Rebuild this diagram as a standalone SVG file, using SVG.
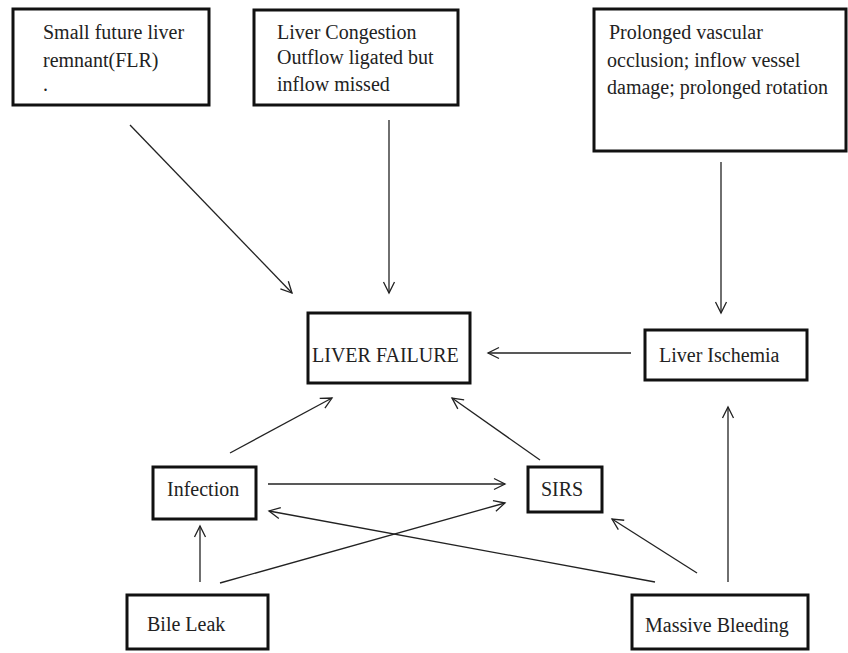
<svg xmlns="http://www.w3.org/2000/svg" width="848" height="653" viewBox="0 0 848 653">
<defs>
<style>
.box{fill:#fff;stroke:#111;stroke-width:3}
.t{font-family:'Liberation Serif','DejaVu Serif',serif;font-size:20px;fill:#222}
.c{stroke:#222;stroke-width:1.3;fill:none;marker-end:url(#ah)}
</style>
<marker id="ah" markerUnits="userSpaceOnUse" markerWidth="14" markerHeight="14" viewBox="0 0 14 14" refX="12" refY="7" orient="auto">
<path d="M1,1.5 L12,7 L1,12.5" fill="none" stroke="#222" stroke-width="1.3"/>
</marker>
</defs>
<rect width="848" height="653" fill="#fff"/>
<g id="n-flr"><rect class="box" x="13" y="9" width="196" height="96"/>
<text class="t" x="43" y="39">Small future liver</text>
<text class="t" x="43" y="67">remnant(FLR)</text>
<text class="t" x="43" y="91">.</text></g>
<g id="n-congestion"><rect class="box" x="254" y="10" width="204" height="95"/>
<text class="t" x="277" y="39">Liver Congestion</text>
<text class="t" x="277" y="64">Outflow ligated but</text>
<text class="t" x="277" y="91">inflow missed</text></g>
<g id="n-occlusion"><rect class="box" x="594" y="9" width="252" height="142"/>
<text class="t" x="609" y="39">Prolonged vascular</text>
<text class="t" x="607" y="67">occlusion; inflow vessel</text>
<text class="t" x="607" y="94">damage; prolonged rotation</text></g>
<g id="n-failure"><rect class="box" x="308" y="313" width="162" height="70"/>
<text class="t" x="312" y="362">LIVER FAILURE</text></g>
<g id="n-ischemia"><rect class="box" x="645" y="330" width="162" height="50"/>
<text class="t" x="659" y="362">Liver Ischemia</text></g>
<g id="n-infection"><rect class="box" x="153" y="467" width="103" height="52"/>
<text class="t" x="167" y="496">Infection</text></g>
<g id="n-sirs"><rect class="box" x="528" y="467" width="74" height="45"/>
<text class="t" x="541" y="496">SIRS</text></g>
<g id="n-bile"><rect class="box" x="127" y="595" width="141" height="54"/>
<text class="t" x="147" y="631">Bile Leak</text></g>
<g id="n-bleeding"><rect class="box" x="632" y="595" width="176" height="54"/>
<text class="t" x="645" y="632">Massive Bleeding</text></g>
<g id="connectors">
<line class="c" x1="130" y1="125" x2="292" y2="293"/>
<line class="c" x1="389" y1="120" x2="389" y2="293"/>
<line class="c" x1="721" y1="162" x2="721" y2="313"/>
<line class="c" x1="631" y1="353" x2="488" y2="353"/>
<line class="c" x1="230" y1="453" x2="332" y2="398"/>
<line class="c" x1="540" y1="460" x2="452" y2="398"/>
<line class="c" x1="268" y1="484" x2="505" y2="484"/>
<line class="c" x1="220" y1="583" x2="505" y2="503"/>
<line class="c" x1="200" y1="582" x2="200" y2="526"/>
<line class="c" x1="655" y1="582" x2="269" y2="511"/>
<line class="c" x1="697" y1="573" x2="612" y2="519"/>
<line class="c" x1="728" y1="582" x2="728" y2="407"/>
</g>
</svg>
